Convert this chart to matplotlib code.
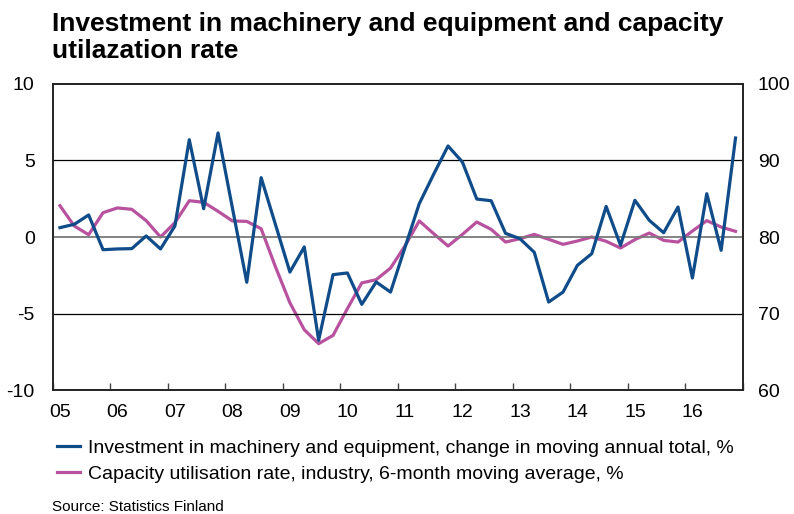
import matplotlib.pyplot as plt
from matplotlib.ticker import FixedLocator

plt.rcParams['font.family'] = ['Liberation Sans', 'DejaVu Sans']
plt.rcParams['axes.unicode_minus'] = False

# quarterly observations 2005Q1 .. 2016Q4
years = list(range(2005, 2017))
year_labels = ["05", "06", "07", "08", "09", "10", "11", "12", "13", "14", "15", "16"]

investment = [0.61, 0.83, 1.44, -0.83, -0.78, -0.76, 0.07, -0.78,
              0.72, 6.36, 1.85, 6.8, 1.9, -2.96, 3.88, 0.8,
              -2.29, -0.65, -6.75, -2.46, -2.35, -4.4, -2.94, -3.6,
              -0.7, 2.18, 4.1, 5.95, 4.9, 2.48, 2.37, 0.24,
              -0.11, -1.0, -4.25, -3.6, -1.85, -1.09, 2.0, -0.54,
              2.4, 1.09, 0.28, 1.96, -2.68, 2.83, -0.87, 6.47]

capacity = [84.1, 81.44, 80.3, 83.18, 83.8, 83.62, 82.14, 80.0,
            81.88, 84.74, 84.54, 83.36, 82.1, 82.04, 81.08, 76.08,
            71.4, 67.88, 66.06, 67.14, 70.64, 74.0, 74.42, 75.94,
            78.82, 82.1, 80.44, 78.82, 80.34, 81.96, 81.0, 79.34,
            79.78, 80.34, 79.7, 79.04, 79.48, 80.0, 79.44, 78.56,
            79.66, 80.52, 79.56, 79.34, 80.78, 82.14, 81.3, 80.74]

x = [2005 + (i + 0.5) / 4 for i in range(len(investment))]

blue = "#0f4c89"
pink = "#b8529f"

fig = plt.figure(figsize=(7.94, 5.14), dpi=100)
ax = fig.add_axes([0.0664, 0.2412, 0.869, 0.5954])
ax2 = ax.twinx()

for v in [-5, 5]:
    ax.axhline(v, color="black", lw=0.9, zorder=1)
ax.axhline(0, color="#7a7a7a", lw=1.3, zorder=1)

l1, = ax.plot(x, investment, color=blue, lw=2.3, zorder=4,
              label="Investment in machinery and equipment, change in moving annual total, %")
l2, = ax2.plot(x, capacity, color=pink, lw=2.3, zorder=3,
               label="Capacity utilisation rate, industry, 6-month moving average, %")
ax.set_zorder(ax2.get_zorder() + 1)
ax.patch.set_visible(False)

ax.set_xlim(2005, 2017)
ax.set_ylim(-10, 10)
ax2.set_ylim(60, 100)
ax.set_yticks([-10, -5, 0, 5, 10])
ax2.set_yticks([60, 70, 80, 90, 100])

ax.xaxis.set_major_locator(FixedLocator(years + [2017]))
ax.xaxis.set_minor_locator(FixedLocator([y + 0.125 for y in years]))
ax.set_xticklabels([])
ax.set_xticklabels(year_labels, minor=True)
ax.tick_params(axis="x", which="major", direction="in", length=5, width=1, color="#444444")
ax.tick_params(axis="x", which="minor", length=0, pad=10, labelsize=14)
ax.tick_params(axis="y", length=0, pad=13, labelsize=14)
ax2.tick_params(axis="y", length=0, pad=11, labelsize=14)

for a in (ax, ax2):
    for s in a.spines.values():
        s.set_linewidth(1.2)
        s.set_color("#222222")

fig.text(0.066, 0.927, "Investment in machinery and equipment and capacity\nutilazation rate",
         fontsize=19, fontweight="bold", va="center", ha="left", linespacing=1.12)

fig.legend(handles=[l1, l2], loc="upper left", bbox_to_anchor=(0.0718, 0.146),
           frameon=False, fontsize=14, handlelength=1.2, handletextpad=0.4,
           labelspacing=0.45, borderaxespad=0, borderpad=0)

fig.text(0.066, 0.0136, "Source: Statistics Finland", fontsize=11, va="center")

fig.savefig("out.png", dpi=100)
